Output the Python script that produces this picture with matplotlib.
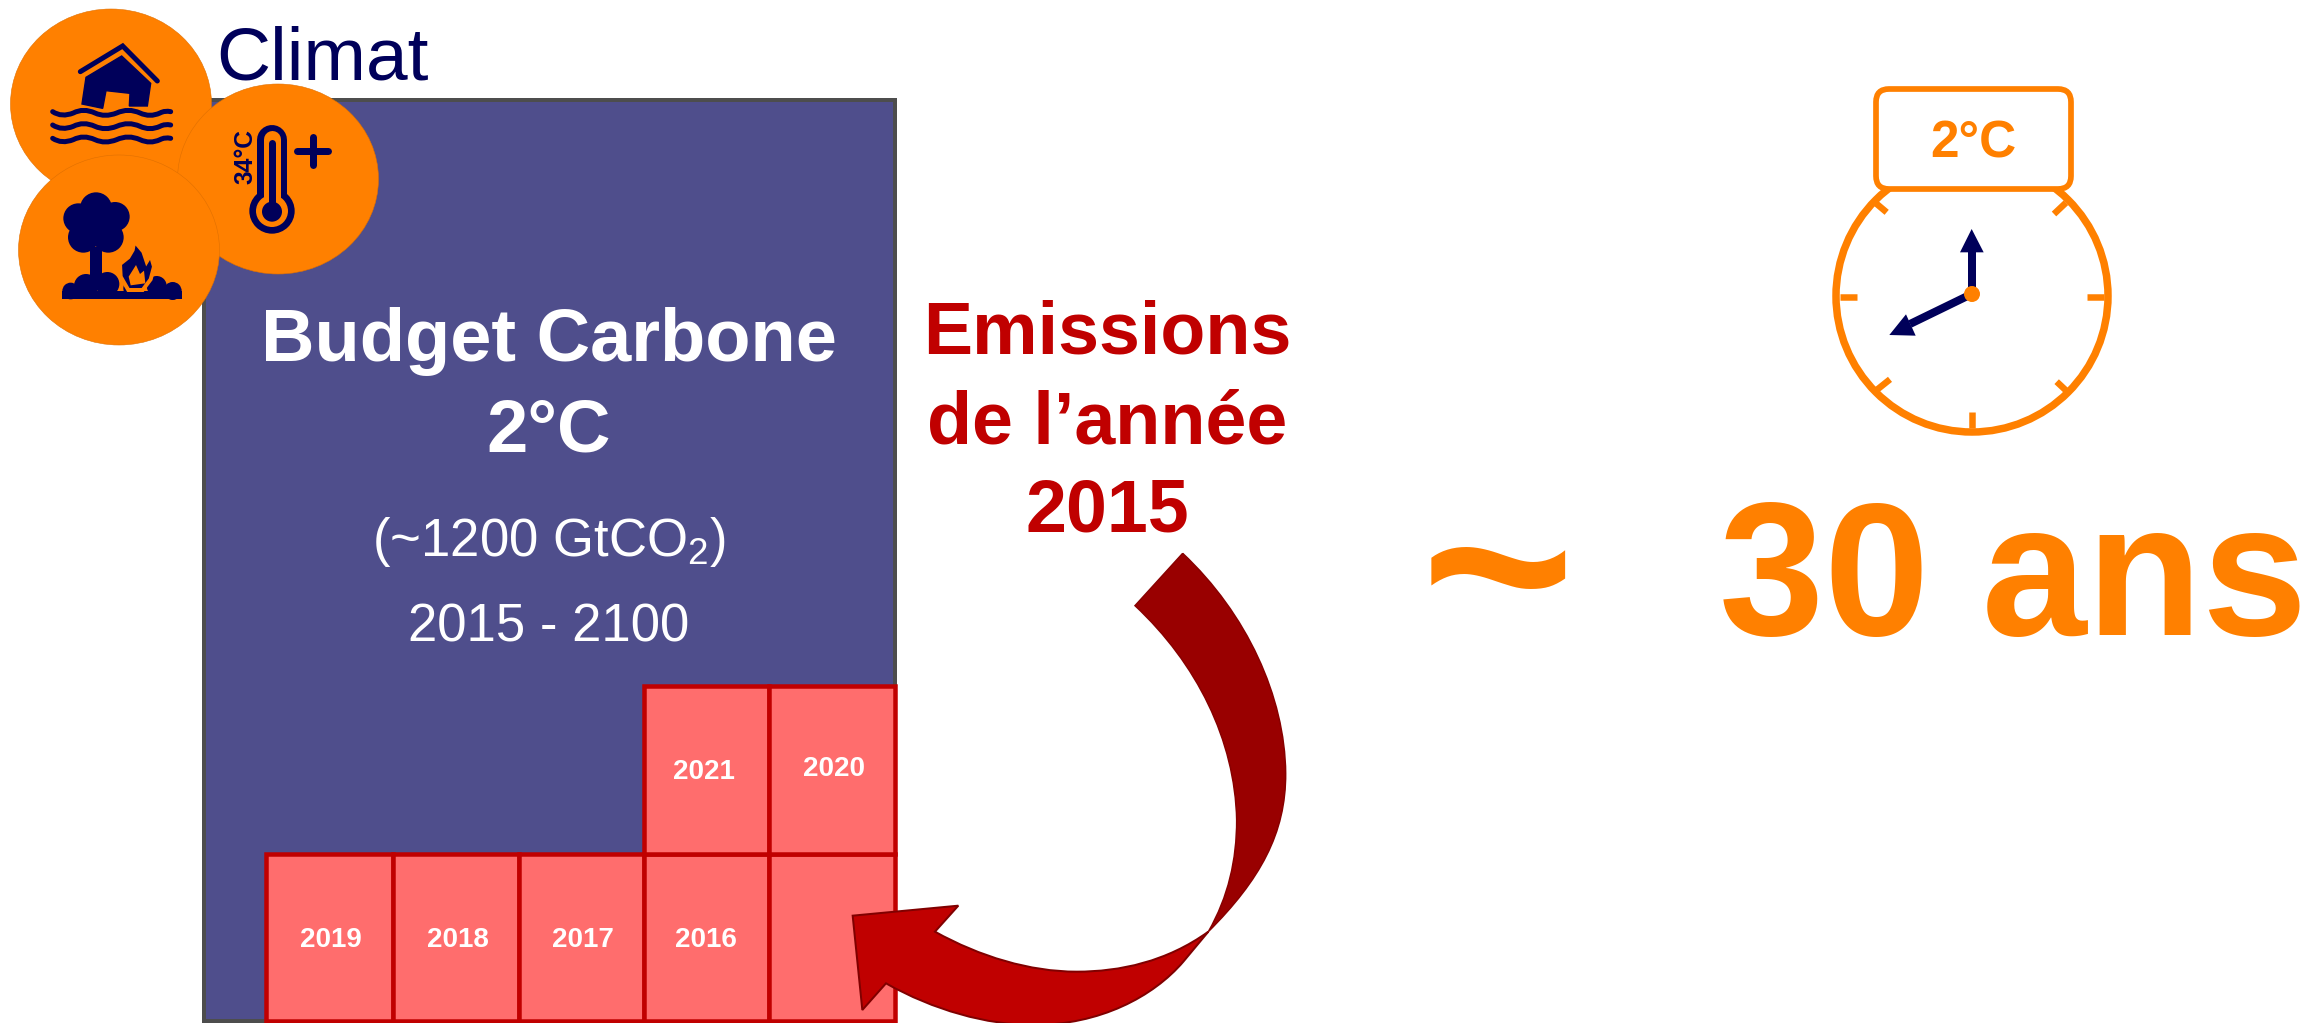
import matplotlib
matplotlib.use('Agg')
import matplotlib.pyplot as plt
from matplotlib.patches import Rectangle, Ellipse, Circle, Polygon, PathPatch, FancyBboxPatch
from matplotlib.path import Path

plt.rcParams['font.family'] = ['Liberation Sans', 'DejaVu Sans']
plt.rcParams['mathtext.fontset'] = 'custom'
plt.rcParams['mathtext.rm'] = 'Liberation Sans'
plt.rcParams['mathtext.default'] = 'rm'

NAVY = '#00005A'
ORANGE = '#FF8000'
RED = '#C00000'
DARK_RED = '#990000'
PX = 0.72  # one pixel in points, at dpi 100

# cells of the yearly emissions
cell_x = [266, 393, 519, 644, 769, 895]
row_y = [686, 854, 1021]
bottom_years = ['2019', '2018', '2017', '2016', '']
top_years = ['2021', '2020']
bottom_label_x = [331, 458, 583, 706]
top_label_x = [704, 834]
top_label_base = [779, 776]

# main text: string, x, baseline, size, weight, colour
budget_lines = [
    ('Budget Carbone', 549, 361, 53.4, 'bold', 'white'),
    ('2°C', 549, 452, 53.4, 'bold', 'white'),
    ('(~1200 GtCO$_2$)', 549, 556, 38, 'normal', 'white'),
    ('2015 - 2100', 549, 642, 38, 'normal', 'white'),
    ('Emissions', 1107, 353, 53, 'bold', RED),
    ('de l’année', 1107, 444, 53, 'bold', RED),
    ('2015', 1107, 531, 53, 'bold', RED),
]

fig = plt.figure(figsize=(23.08, 10.23), dpi=100)
ax = fig.add_axes([0, 0, 1, 1])
ax.set_xlim(0, 2308)
ax.set_ylim(1023, 0)
ax.axis('off')


# crop coordinates of the zoomed views to picture pixels
def top_left(pts):
    return [(x / 3, y / 3) for x, y in pts]


def arrow_view(pts):
    return [(800 + x / 3, 500 + y / 3) for x, y in pts]


def clock_view(pts):
    return [(1800 + x / 3, 70 + y / 3) for x, y in pts]


def stroke(pts, width, color, cap='round', zorder=5):
    xs, ys = zip(*pts)
    ax.plot(xs, ys, color=color, lw=width * PX, solid_capstyle=cap,
            solid_joinstyle='miter', zorder=zorder)


# Budget block
ax.add_patch(Rectangle((204, 100), 691, 921, fc='#4F4E8C', ec='#4D4D4D', lw=4 * PX, zorder=1))
for i in range(5):
    ax.add_patch(Rectangle((cell_x[i], row_y[1]), cell_x[i + 1] - cell_x[i], row_y[2] - row_y[1],
                           fc='#FF6D6D', ec=RED, lw=4.5 * PX, zorder=2))
for i in range(2):
    ax.add_patch(Rectangle((cell_x[3 + i], row_y[0]), cell_x[4 + i] - cell_x[3 + i], row_y[1] - row_y[0],
                           fc='#FF6D6D', ec=RED, lw=4.5 * PX, zorder=2))
for year, x in zip(bottom_years, bottom_label_x):
    ax.text(x, 947, year, color='white', fontsize=20, fontweight='bold', ha='center', va='baseline', zorder=3)
for year, x, y in zip(top_years, top_label_x, top_label_base):
    ax.text(x, y, year, color='white', fontsize=20, fontweight='bold', ha='center', va='baseline', zorder=3)

for s, x, y, size, weight, color in budget_lines:
    ax.text(x, y, s, fontsize=size, fontweight=weight, color=color, ha='center', va='baseline', zorder=3)

# Climat
ax.text(216, 79, 'Climat', fontsize=54, color=NAVY, ha='left', va='baseline', zorder=3)

# the three orange discs
for (cx, cy), z in zip([(111, 104), (278, 179), (119, 250)], [10, 20, 30]):
    ax.add_patch(Ellipse((cx, cy), 201, 190, fc=ORANGE, ec='#E07000', lw=0.4, zorder=z))

# flooded house
stroke(top_left([(241, 215), (368, 138), (472, 243)]), 5, NAVY, zorder=11)
ax.add_patch(Polygon(top_left([(258, 232), (365, 168), (452, 250), (442, 318), (388, 318), (390, 280),
                               (318, 272), (308, 325), (246, 312)]), fc=NAVY, ec=NAVY, lw=1, zorder=11))
for wave_y in [335, 375, 415]:
    wave = [(158, wave_y), (185, wave_y + 18), (220, wave_y + 4), (250, wave_y - 12), (285, wave_y + 4),
            (315, wave_y + 18), (350, wave_y + 4), (385, wave_y - 12), (420, wave_y + 4),
            (450, wave_y + 18), (480, wave_y + 4), (495, wave_y - 4), (512, wave_y)]
    codes = [Path.MOVETO] + [Path.CURVE3] * (len(wave) - 1)
    ax.add_patch(PathPatch(Path(top_left(wave), codes), fc='none', ec=NAVY, lw=5 * PX, capstyle='round', zorder=11))

# thermometer
stroke(top_left([(817, 420), (817, 630)]), 30, NAVY, zorder=21)
ax.add_patch(Circle((816 / 3, 633 / 3), 68 / 3, fc=NAVY, ec='none', zorder=21))
stroke(top_left([(816, 418), (816, 630)]), 17, ORANGE, zorder=22)
ax.add_patch(Circle((816 / 3, 633 / 3), 48 / 3, fc=ORANGE, ec='none', zorder=22))
stroke(top_left([(816, 430), (816, 630)]), 7, NAVY, zorder=23)
ax.add_patch(Circle((816 / 3, 635 / 3), 30 / 3, fc=NAVY, ec='none', zorder=23))
stroke(top_left([(892, 452), (985, 452)]), 7, NAVY, zorder=23)
stroke(top_left([(938, 410), (938, 496)]), 7, NAVY, zorder=23)
ax.text(245, 157, '34°C', rotation=90, fontsize=17.7, fontweight='bold', color=NAVY,
        ha='center', va='center', zorder=23)

# tree and fire
for x, y, r in [(288, 625, 48), (235, 655, 45), (345, 650, 44), (250, 712, 46), (325, 712, 46), (288, 670, 50)]:
    ax.add_patch(Circle((x / 3, y / 3), r / 3, fc=NAVY, ec='none', zorder=31))
ax.add_patch(Polygon(top_left([(270, 740), (307, 740), (307, 840), (270, 840)]), fc=NAVY, ec='none', zorder=31))
for x, y, r in [(212, 873, 25), (258, 858, 36), (322, 852, 36), (400, 865, 30), (470, 858, 30), (518, 873, 27)]:
    ax.add_patch(Circle((x / 3, y / 3), r / 3, fc=NAVY, ec='none', zorder=31))
ax.add_patch(Polygon(top_left([(187, 872), (545, 872), (545, 896), (187, 896)]), fc=NAVY, ec='none', zorder=31))
flame = [(403, 723), (430, 755), (440, 785), (452, 765), (462, 800), (452, 838), (428, 870), (385, 870),
         (362, 830), (360, 792), (385, 772), (398, 750)]
ax.add_patch(Polygon(top_left(flame), fc=NAVY, ec=ORANGE, lw=4 * PX, zorder=32))
ax.add_patch(Polygon(top_left([(408, 795), (420, 822), (432, 812), (436, 850), (392, 856), (386, 830)]),
                     fc=ORANGE, ec='none', zorder=33))

# curved arrow, dark part behind
M, C4, L = Path.MOVETO, Path.CURVE4, Path.LINETO
upper = [(1148, 160), (1340, 340), (1455, 590), (1457, 820), (1458, 1000), (1380, 1140), (1225, 1295),
         (1285, 1190), (1310, 1080), (1310, 960), (1305, 720), (1190, 490), (1005, 317), (1148, 160)]
upper_codes = [M] + [C4] * 12 + [L]
ax.add_patch(PathPatch(Path(arrow_view(upper), upper_codes), fc=DARK_RED, ec='#880000', lw=1.5 * PX, zorder=4))
lower = [(1225, 1295), (1100, 1385), (960, 1415), (830, 1415), (690, 1415), (540, 1370), (405, 1295),
         (475, 1217), (158, 1247), (187, 1530), (258, 1450), (400, 1530), (560, 1575), (700, 1575),
         (900, 1575), (1060, 1490), (1150, 1385), (1225, 1295)]
lower_codes = [M, C4, C4, C4, C4, C4, C4, L, L, L, L, C4, C4, C4, C4, C4, C4, L]
ax.add_patch(PathPatch(Path(arrow_view(lower), lower_codes), fc=RED, ec='#800000', lw=2 * PX, zorder=5))

# clock
ax.add_patch(Circle((1972, 296), 136, fc='white', ec=ORANGE, lw=7.5 * PX, zorder=3))
ticks = [[(120, 680), (170, 680)], [(860, 680), (912, 680)], [(515, 1025), (515, 1075)],
         [(228, 400), (260, 427)], [(762, 432), (798, 398)], [(230, 960), (270, 928)], [(770, 935), (805, 968)]]
for t in ticks:
    stroke(clock_view(t), 6.5, ORANGE, cap='butt', zorder=4)
ax.add_patch(FancyBboxPatch((1889, 102), 169, 74, boxstyle='round,pad=13,rounding_size=13',
                            fc='white', ec=ORANGE, lw=5.7 * PX, zorder=5))
ax.text(1973, 157, '2°C', fontsize=37, fontweight='bold', color=ORANGE, ha='center', va='baseline', zorder=6)
stroke(clock_view([(515, 672), (515, 540)]), 8, NAVY, cap='butt', zorder=6)
ax.add_patch(Polygon(clock_view([(515, 477), (551, 547), (480, 547)]), fc=NAVY, ec='none', zorder=6))
stroke(clock_view([(515, 672), (330, 762)]), 8, NAVY, cap='butt', zorder=6)
ax.add_patch(Polygon(clock_view([(268, 795), (318, 733), (347, 797)]), fc=NAVY, ec='none', zorder=6))
ax.add_patch(Circle((1972, 294), 8, fc=ORANGE, ec='none', zorder=7))

# result
ax.text(1498, 655, '~', fontsize=190, fontweight='bold', color=ORANGE, ha='center', va='baseline', zorder=3)
ax.text(1719, 635, '30 ans', fontsize=136, fontweight='bold', color=ORANGE, ha='left', va='baseline', zorder=3)

fig.savefig('out.png', dpi=100)
